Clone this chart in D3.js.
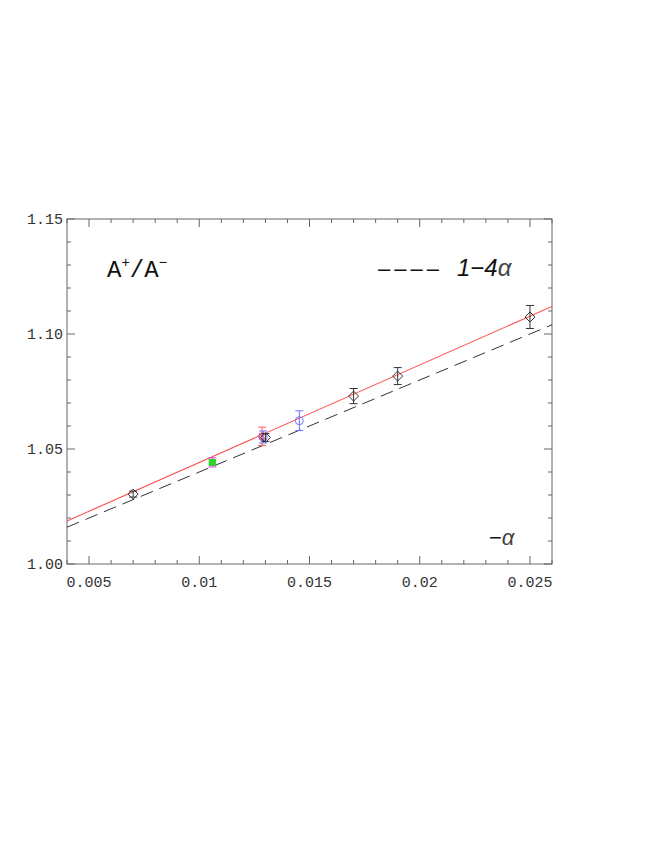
<!DOCTYPE html>
<html><head><meta charset="utf-8">
<script src="https://cdn.jsdelivr.net/npm/d3@7"></script>
<style>body{margin:0;background:#fff}</style>
</head><body>
<svg id="c" width="654" height="846"></svg>
<script>
// Data
const blackX = [0.007, 0.013, 0.017, 0.019, 0.025];
const blackY = [1.0304, 1.0550, 1.0730, 1.0817, 1.1074];
const blackErr = [0.0013, 0.0017, 0.0033, 0.0037, 0.0050];
const blueX = [0.0129, 0.01454];
const blueY = [1.0552, 1.0623];
const blueErr = [0.0026, 0.0043];
const redX = [0.01285];
const redY = [1.0555];
const redErr = [0.0040];
const greenX = [0.01059];
const greenY = [1.0442];
const greenErr = [0.0020];
const fitLineX = [0.004, 0.026];
const fitLineY = [1.0187, 1.1120];
const theoryX = [0.004, 0.026];
const theoryY = [1.016, 1.104];
const xTicks = [0.005, 0.01, 0.015, 0.02, 0.025];
const xTickLabels = ["0.005", "0.01", "0.015", "0.02", "0.025"];
const yTicks = [1.00, 1.05, 1.10, 1.15];
const yTickLabels = ["1.00", "1.05", "1.10", "1.15"];

const svg = d3.select("#c");
const L = 67, R = 552, T = 219, B = 564;
const x = d3.scaleLinear().domain([0.004, 0.026]).range([L, R]);
const y = d3.scaleLinear().domain([1.0, 1.15]).range([B, T]);
const frameCol = "#666";

const g = svg.append("g");
svg.append("clipPath").attr("id", "clip").append("rect")
  .attr("x", L).attr("y", T).attr("width", R - L).attr("height", B - T);

g.append("rect").attr("x", L).attr("y", T).attr("width", R - L).attr("height", B - T)
  .attr("fill", "none").attr("stroke", frameCol).attr("stroke-width", 1);

const xMinor = d3.range(4, 27).map(d => d / 1000);
const yMinor = d3.range(0, 16).map(d => 1 + d / 100);
function isMajX(v) { return xTicks.some(t => Math.abs(t - v) < 1e-9); }
function isMajY(v) { return yTicks.some(t => Math.abs(t - v) < 1e-9); }
xMinor.forEach(v => {
  const len = isMajX(v) ? 8 : 4;
  const px = x(v);
  g.append("line").attr("x1", px).attr("x2", px).attr("y1", B).attr("y2", B - len).attr("stroke", frameCol);
  g.append("line").attr("x1", px).attr("x2", px).attr("y1", T).attr("y2", T + len).attr("stroke", frameCol);
});
yMinor.forEach(v => {
  const len = isMajY(v) ? 8 : 4;
  const py = y(v);
  g.append("line").attr("x1", L).attr("x2", L + len).attr("y1", py).attr("y2", py).attr("stroke", frameCol);
  g.append("line").attr("x1", R).attr("x2", R - len).attr("y1", py).attr("y2", py).attr("stroke", frameCol);
});

const tf = "'Liberation Mono', 'DejaVu Sans Mono', monospace";
xTicks.forEach((v, i) => {
  g.append("text").attr("x", x(v)).attr("y", B + 23).attr("text-anchor", "middle")
    .attr("font-family", tf).attr("font-size", 15).attr("fill", "#333").text(xTickLabels[i]);
});
yTicks.forEach((v, i) => {
  g.append("text").attr("x", L - 4).attr("y", y(v) + 5).attr("text-anchor", "end")
    .attr("font-family", tf).attr("font-size", 15).attr("fill", "#333").text(yTickLabels[i]);
});

const plot = svg.append("g").attr("clip-path", "url(#clip)");
const line = d3.line().x(d => x(d[0])).y(d => y(d[1]));
plot.append("path").datum(d3.zip(theoryX, theoryY)).attr("d", line)
  .attr("fill", "none").attr("stroke", "#333").attr("stroke-width", 1).attr("stroke-dasharray", "13,7");
plot.append("path").datum(d3.zip(fitLineX, fitLineY)).attr("d", line)
  .attr("fill", "none").attr("stroke", "#ff4d4d").attr("stroke-width", 1.1);

function errbars(xs, ys, es, col) {
  xs.forEach((v, i) => {
    const px = x(v), y1 = y(ys[i] + es[i]), y2 = y(ys[i] - es[i]);
    plot.append("line").attr("x1", px).attr("x2", px).attr("y1", y1).attr("y2", y2).attr("stroke", col);
    plot.append("line").attr("x1", px - 4).attr("x2", px + 4).attr("y1", y1).attr("y2", y1).attr("stroke", col);
    plot.append("line").attr("x1", px - 4).attr("x2", px + 4).attr("y1", y2).attr("y2", y2).attr("stroke", col);
  });
}

errbars(greenX, greenY, greenErr, "#e040e0");
greenX.forEach((v, i) => {
  plot.append("rect").attr("x", x(v) - 3).attr("y", y(greenY[i]) - 3).attr("width", 6).attr("height", 6)
    .attr("fill", "#22dd22").attr("stroke", "#22cc22");
});
errbars(redX, redY, redErr, "#ff5a5a");
redX.forEach((v, i) => {
  const px = x(v), py = y(redY[i]);
  plot.append("circle").attr("cx", px).attr("cy", py).attr("r", 3.5).attr("fill", "none").attr("stroke", "#ff4040");
  plot.append("path").attr("d", `M${px-3},${py-3}L${px+3},${py+3}M${px-3},${py+3}L${px+3},${py-3}`).attr("stroke", "#ff4040");
});
errbars(blueX, blueY, blueErr, "#7070ff");
blueX.forEach((v, i) => {
  plot.append("circle").attr("cx", x(v)).attr("cy", y(blueY[i])).attr("r", 4).attr("fill", "none").attr("stroke", "#7070ff");
});
errbars(blackX, blackY, blackErr, "#333");
blackX.forEach((v, i) => {
  const px = x(v), py = y(blackY[i]);
  plot.append("path").attr("d", `M${px},${py-5}L${px+5},${py}L${px},${py+5}L${px-5},${py}Z`)
    .attr("fill", "none").attr("stroke", "#333");
});

// Labels
const lab = g.append("text").attr("x", 107).attr("y", 277).attr("font-family", tf).attr("font-size", 24).attr("fill", "#111");
lab.append("tspan").text("A");
lab.append("tspan").attr("dy", -10).attr("font-size", 14).text("+");
lab.append("tspan").attr("dy", 10).text("/A");
lab.append("tspan").attr("dy", -10).attr("font-size", 14).text("−");

const sf = "'Liberation Sans', Arial, sans-serif";
g.append("text").attr("x", 378).attr("y", 276).attr("font-family", sf).attr("font-size", 22)
  .attr("letter-spacing", 4).attr("fill", "#111").text("––––");
const leg = g.append("text").attr("x", 457).attr("y", 276).attr("font-family", sf).attr("font-size", 24).attr("fill", "#111");
leg.append("tspan").attr("font-style", "italic").text("1−4");
leg.append("tspan").attr("font-style", "italic").attr("fill", "#444").text("α");

const al = g.append("text").attr("x", 489).attr("y", 545).attr("font-family", sf).attr("font-size", 22).attr("fill", "#111");
al.append("tspan").text("−");
al.append("tspan").attr("font-style", "italic").attr("fill", "#444").text("α");
</script>
</body></html>
